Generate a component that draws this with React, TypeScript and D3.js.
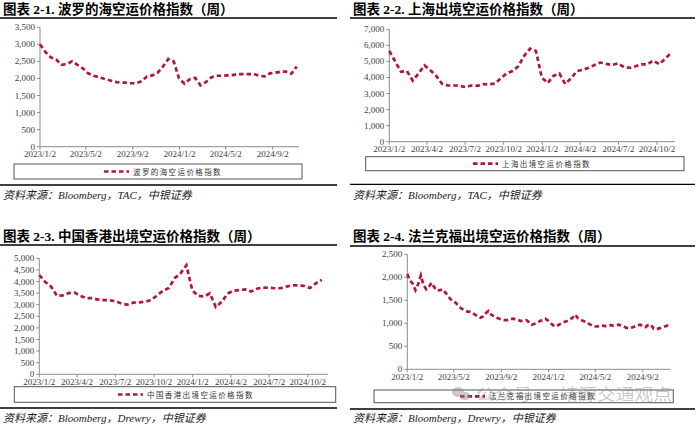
import * as d3 from "d3";

// weekly index data (2023/1/2 onwards)
const START = "2023/1/2";

// 波罗的海空运价格指数, every 2 weeks
const baltic = [
  3000, 2780, 2620, 2560, 2400, 2420, 2500, 2400, 2300, 2150, 2080, 2040, 1990, 1950, 1900, 1880, 1880,
  1860, 1860, 1920, 2060, 2090, 2170, 2350, 2570, 2500, 2000, 1850, 1980, 2020, 1800, 1890, 2030, 2080,
  2080, 2090, 2100, 2130, 2130, 2130, 2130, 2080, 2060, 2150, 2170, 2200, 2200, 2140, 2350,
];

// 上海出境空运价格指数, every 2 weeks
const shanghai = [
  5650, 5000, 4350, 4400, 3800, 4250, 4750, 4450, 4100, 3600, 3500, 3500, 3480, 3400, 3500, 3480, 3580,
  3570, 3620, 3950, 4250, 4400, 4700, 5350, 5800, 5650, 4000, 3650, 4100, 4250, 3600, 3950, 4400, 4480,
  4600, 4780, 4930, 4850, 4780, 4880, 4650, 4600, 4700, 4820, 4820, 5050, 4830, 5150, 5520,
];

// 中国香港出境空运价格指数, every 2 weeks
const hongkong = [
  4280, 3980, 3780, 3380, 3400, 3500, 3520, 3380, 3280, 3280, 3220, 3200, 3190, 3150, 3040, 3000, 3090,
  3100, 3130, 3200, 3400, 3600, 3720, 4140, 4350, 4700, 3620, 3380, 3350, 3490, 2900, 3120, 3480, 3600,
  3630, 3660, 3570, 3690, 3740, 3730, 3710, 3710, 3780, 3840, 3830, 3810, 3720, 3920, 4070,
];

// 法兰克福出境空运价格指数, weekly
const frankfurt = [
  2070, 1930, 1860, 1720, 1850, 2040, 1830, 1740, 1800, 1880, 1780, 1710, 1720, 1740, 1670, 1600, 1520,
  1480, 1440, 1370, 1320, 1290, 1260, 1250, 1230, 1190, 1150, 1120, 1150, 1220, 1270, 1190, 1150, 1120,
  1100, 1080, 1070, 1070, 1090, 1100, 1090, 1070, 1050, 1060, 1070, 1020, 970, 990, 1010, 1050, 1070,
  1100, 1060, 1000, 950, 930, 970, 1000, 1030, 1050, 1080, 1120, 1190, 1110, 1080, 1050, 1030, 990, 960,
  930, 930, 940, 950, 940, 950, 960, 950, 960, 970, 950, 930, 900, 890, 910, 930, 960, 970, 930, 920,
  960, 970, 880, 870, 890, 910, 930, 950, 950,
];

const ticks4m = ["2023/1/2", "2023/5/2", "2023/9/2", "2024/1/2", "2024/5/2", "2024/9/2"];
const ticks3m = ["2023/1/2", "2023/4/2", "2023/7/2", "2023/10/2", "2024/1/2", "2024/4/2", "2024/7/2", "2024/10/2"];

const parse = (s: string) => {
  const [y, m, d] = s.split("/").map(Number);
  return new Date(y, m - 1, d);
};

const RED = "#B2153E";
const AXIS = "#8c8c8c";
const SERIF = "'Liberation Serif', 'Noto Sans CJK SC', serif";
const CJK = "'Liberation Serif', 'Noto Sans CJK SC', sans-serif";

type PanelProps = {
  ox: number; oy: number; w: number;
  title: string; legend: string; source: string;
  values: number[]; stepDays: number;
  ticks: string[]; end: string;
  x0: number; x1: number; yTop: number; yBot: number;
  yMax: number; yStep: number;
  topLine: number; bottomLine: number; titleY: number; sourceY: number;
  box: [number, number, number, number]; dashX: number;
};

function Panel(p: PanelProps) {
  const x = d3.scaleTime().domain([parse(START), parse(p.end)]).range([p.x0, p.x1]);
  const y = d3.scaleLinear().domain([0, p.yMax]).range([p.yBot, p.yTop]);
  const pts = p.values.map((v, i) => [d3.timeDay.offset(parse(START), i * p.stepDays), v] as [Date, number]);
  const line = d3.line<[Date, number]>().x(d => x(d[0])).y(d => y(d[1]));
  const yTicks = d3.range(0, p.yMax + 1, p.yStep);
  const fmt = d3.format(",");
  const [bx, by, bw, bh] = p.box;
  const ly = by + bh / 2;

  return (
    <g>
      <text x={p.ox + 3} y={p.titleY} fontFamily={CJK} fontWeight="bold" fontSize={13.5} fill="#000">{p.title}</text>
      <line x1={p.ox} x2={p.ox + p.w} y1={p.topLine} y2={p.topLine} stroke="#000" strokeWidth={1.3} />

      {yTicks.map(t => (
        <g key={t}>
          <line x1={p.x0 - 3} x2={p.x0} y1={y(t)} y2={y(t)} stroke={AXIS} />
          <text x={p.x0 - 5} y={y(t) + 3} textAnchor="end" fontFamily={SERIF} fontSize={9} fill="#404040">{fmt(t)}</text>
        </g>
      ))}
      <line x1={p.x0} x2={p.x0} y1={p.yTop} y2={p.yBot} stroke={AXIS} />
      <line x1={p.x0} x2={p.x1} y1={p.yBot} y2={p.yBot} stroke={AXIS} />
      {p.ticks.map(t => (
        <g key={t}>
          <line x1={x(parse(t))} x2={x(parse(t))} y1={p.yBot} y2={p.yBot + 3} stroke={AXIS} />
          <text x={x(parse(t))} y={p.yBot + 10.5} textAnchor="middle" fontFamily={SERIF} fontSize={9} fill="#404040">{t}</text>
        </g>
      ))}

      <path d={line(pts) ?? ""} fill="none" stroke={RED} strokeWidth={2.7} strokeDasharray="4.5 3" />

      <rect x={bx} y={by} width={bw} height={bh} fill="none" stroke="#555" strokeWidth={1} />
      <line x1={p.dashX} x2={p.dashX + 25} y1={ly} y2={ly} stroke={RED} strokeWidth={2.7} strokeDasharray="4.5 3" />
      <text x={p.dashX + 29} y={ly + 3} fontFamily={CJK} fontSize={7.5} letterSpacing={1.4} fill="#333">{p.legend}</text>

      <line x1={p.ox} x2={p.ox + p.w} y1={p.bottomLine} y2={p.bottomLine} stroke="#000" strokeWidth={1.3} />
      <text x={p.ox + 3} y={p.sourceY} fontFamily={CJK} fontStyle="italic" fontSize={11} fill="#222">{p.source}</text>
    </g>
  );
}

export default function App() {
  return (
    <svg width={700} height={426} style={{ position: "absolute", left: 0, top: 0, background: "#fff" }}>
      <rect width={700} height={426} fill="#fff" />
      <Panel
        ox={0} oy={0} w={337}
        title="图表 2-1. 波罗的海空运价格指数（周）" legend="波罗的海空运价格指数"
        source="资料来源：Bloomberg，TAC，中银证券"
        values={baltic} stepDays={14} ticks={ticks4m} end="2024/11/10"
        x0={40} x1={299} yTop={27.3} yBot={146.7} yMax={3500} yStep={500}
        topLine={18} bottomLine={185} titleY={14} sourceY={198.5}
        box={[14, 164, 288, 15]} dashX={104}
      />
      <Panel
        ox={350} oy={0} w={345}
        title="图表 2-2. 上海出境空运价格指数（周）" legend="上海出境空运价格指数"
        source="资料来源：Bloomberg，TAC，中银证券"
        values={shanghai} stepDays={14} ticks={ticks3m} end="2024/11/14"
        x0={389.3} x1={675} yTop={29.3} yBot={141.7} yMax={7000} yStep={1000}
        topLine={18} bottomLine={184.3} titleY={14} sourceY={198.5}
        box={[365.7, 156.7, 318.3, 14]} dashX={473}
      />
      <Panel
        ox={0} oy={210} w={337}
        title="图表 2-3. 中国香港出境空运价格指数（周）" legend="中国香港出境空运价格指数"
        source="资料来源：Bloomberg，Drewry，中银证券"
        values={hongkong} stepDays={14} ticks={ticks3m} end="2024/11/19"
        x0={39.3} x1={328} yTop={258.3} yBot={374.3} yMax={5000} yStep={500}
        topLine={245} bottomLine={408} titleY={241} sourceY={422}
        box={[14.3, 386.7, 321.4, 15.6]} dashX={118}
      />
      <Panel
        ox={350} oy={210} w={345}
        title="图表 2-4. 法兰克福出境空运价格指数（周）" legend="法兰克福出境空运价格指数"
        source="资料来源：Bloomberg，Drewry，中银证券"
        values={frankfurt} stepDays={7} ticks={ticks4m} end="2024/11/13"
        x0={407.3} x1={670.7} yTop={254.3} yBot={369.3} yMax={2500} yStep={500}
        topLine={246} bottomLine={409} titleY={241} sourceY={422}
        box={[374, 390, 299.3, 12.7]} dashX={460}
      />
      {/* watermark */}
      <g opacity={0.45} fill="#8a8a8a">
        <ellipse cx={458} cy={392} rx={6} ry={5} />
        <ellipse cx={465} cy={396} rx={5} ry={4.2} />
        <text x={476} y={399.5} fontFamily="'Noto Sans CJK SC', sans-serif" fontSize={15.5} textLength={196} lengthAdjust="spacingAndGlyphs">公众号 · 靖源交通观点</text>
      </g>
    </svg>
  );
}
